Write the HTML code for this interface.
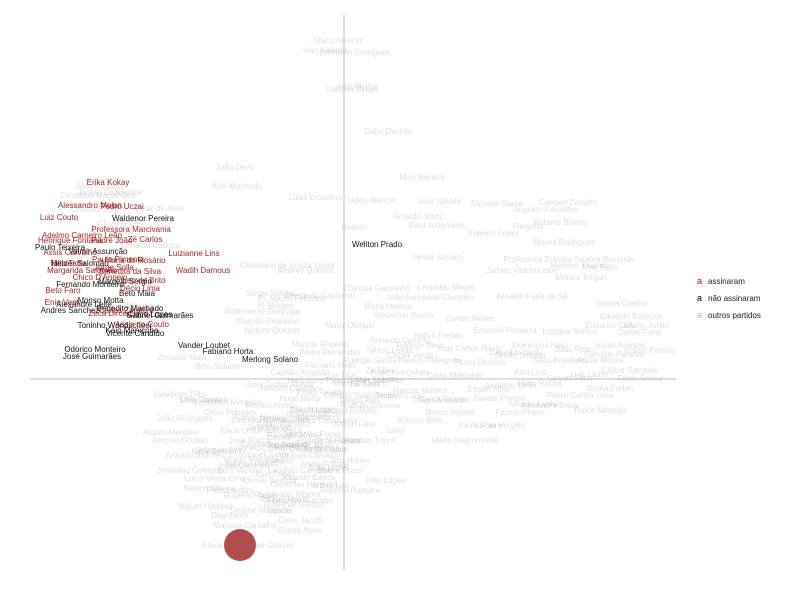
<!DOCTYPE html>
<html><head><meta charset="utf-8"><style>
html,body{margin:0;padding:0;background:#fff;}
svg{display:block;font-family:"Liberation Sans",sans-serif;}
</style></head><body>
<svg id="chart" width="800" height="600" viewBox="0 0 800 600">
<rect width="800" height="600" fill="#fff"/>
<g id="axes"></g><g id="gray"></g><g id="black"></g><g id="red"></g><g id="legend"></g>
</svg>
<script>
const redNames=["Erika Kokay","Alessandro Molon","Pedro Uczai","Luiz Couto","Professora Marcivania","Adelmo Carneiro Leão","Henrique Fontana","Padre João","Zé Carlos","Luizianne Lins","Assis Carvalho","Paulo Pimenta","Maria do Rosário","Nilto Tatto","Wadih Damous","Margarida Salomão","Beto Faro","Enio Verri","Chico D'Angelo","Zeca Dirceu","Décio Lima","Carlos Zarattini","Assis do Couto","Benedita da Silva","Jorge Solla","Leo de Brito"];
const redX=[-2.36,-2.54,-2.22,-2.85,-2.13,-2.62,-2.74,-2.32,-1.99,-1.50,-2.74,-2.26,-2.09,-2.76,-1.41,-2.62,-2.81,-2.82,-2.44,-2.34,-2.04,-2.18,-2.02,-2.14,-2.30,-2.00];
const redY=[1.97,1.74,1.73,1.62,1.50,1.44,1.39,1.39,1.40,1.26,1.27,1.20,1.19,1.16,1.09,1.09,0.89,0.77,1.02,0.66,0.91,0.69,0.55,1.08,1.12,0.99];
const blackNames=["Waldenor Pereira","Weliton Prado","Paulo Teixeira","Valmir Assunção","Helder Salomão","Fernando Monteiro","Marcelo Sérgio","Beto Maia","Andres Sanchez","Chico Lopes","Gabriel Guimarães","Toninho Wandscheer","Vicente Cândido","Kaio Maniçoba","Odorico Monteiro","José Guimarães","Vander Loubet","Fabiano Horta","Merlong Solano","Benedito Machado","Afonso Motta","Alexandre Leite"];
const blackX=[-2.01,0.33,-2.84,-2.46,-2.64,-2.54,-2.19,-2.07,-2.74,-1.94,-1.84,-2.29,-2.09,-2.12,-2.49,-2.52,-1.40,-1.16,-0.74,-2.14,-2.44,-2.60];
const blackY=[1.61,1.35,1.32,1.28,1.16,0.95,0.98,0.86,0.69,0.65,0.64,0.54,0.46,0.49,0.30,0.23,0.34,0.28,0.20,0.71,0.79,0.75];
const grayNames=["Chico Alencar","Ivan Valente","Edmilson Rodrigues","Glauber Braga","Jean Wyllys","Cabo Daciolo","João Derly","Aliel Machado","Miro Teixeira","Luiza Erundina","Tadeu Alencar","José Stédile","Eliziane Gama","Carmen Zanotto","Augusto Carvalho","Rubens Bueno","Arnaldo Jordy","Raul Jungmann","Flavinho","Bebeto","Roberto Freire","Moses Rodrigues","Heitor Schuch","Professora Dorinha Seabra Rezende","Christiane de Souza Yared","Walney Queiroz","Jarbas Vasconcelos","Max Filho","Mendes Thame","Moroni Torgan","Leopoldo Meyer","Clarissa Garotinho","Arnaldo Faria de Sá","João Fernando Coutinho","Sergio Vidigal","Delegado Capitanio","Pr. Marco Feliciano","Jô Moraes","Daniel Coelho","Maria Helena","Subtenente Gonzaga","Eduardo Barbosa","Jutahy Junior","Danilo Forte","Damião Feliciano","Luciana Santos","Aelton Freitas","Major Olimpio","Expedito Netto","Wolney Queiroz","Zenaide Maia","Beto Salame","Marcos Rogério","Pedro Fernandes","Weverton Rocha","Eduardo Cadoca","Chico Lopes","Janete Capiberibe","Davidson Magalhães","Alice Portugal","Orlando Silva","Bacelar","Evair de Melo","Valadares Filho","Sílvio Torres","Leonardo Monteiro","Ronaldo Carletto","Luiz Carlos Hauly","Domingos Neto","Atila Lins","Andre Moura","Bruna Furlan","Fábio Sousa","Nelson Pellegrino","Celso Maldaner","Jorginho Mello","Pedro Cunha Lima","Fausto Pinato","Paulo Freire","Marco Tebaldi","Antonio Brito","Tenente Lúcio","Zé Silva","Elizeu Dionizio","Alexandre Baldy","Jovair Arantes","Mauro Pereira","Silas Brasileiro","Ezequiel Fonseca","Carlos Melles","Rodrigo Maia","Mário Negromonte","Lucas Vergilio","Dulce Miranda","Hildo Rocha","Cleber Verde","Alex Manente","Marcos Montes","Rômulo Gouveia","Izalci","Diego Andrade","Eduardo Cury","Carlos Sampaio","Covatti Filho","Simão Sessim","Gorete Pereira","José Carlos Aleluia","Paulo Foletto","Hugo Motta","Aluisio Mendes","Antonio Bulhões","João Rodrigues","Celso Pansera","Evandro Roman","Paulo Maluf","Sóstenes Cavalcante","Lázaro Botelho","José Rocha","Jhonatan de Jesus","Francisco Floriano","Josi Nunes","Giacobo","Beto Mansur","Laudívio Carvalho","Lucio Vieira Lima","Osmar Bertoldi","Arthur Lira","Julio Lopes","Nelson Meurer","Rogério Rosso","Fernando Giacobo","Roberto Balestra","Miguel Haddad","Simone Morgado","Celso Jacob","Rocha Alves","Mariana Carvalho","Eduardo Cunha","Aníbal Chaves","Cacá Leão","Renata Abreu","Gilberto Nascimento","Caio Narcio","Ricardo Tripoli","Marcelo Aro","Vinicius Carvalho","Altineu Côrtes","Baleia Rossi","Paes Landim","Jerônimo Goergen","Danrlei","Dagoberto","Antonio Goulart","Herculano Passos","Marcelo Castro","Hiran Gonçalves","Luis Tibé","Capitão Augusto","Rodrigo Garcia","Flaviano Melo","Newton Cardoso","Sérgio Reis","Nilson Leitão","Mauro Lopes","Remídio Monai","Toninho Pinheiro","Lelo Coimbra","Marx Beltrão","Rubens Otoni","Carlos Gomes","Efraim Filho","Luiz Lauro","Darcísio Perondi","Wilson Filho","Jorge Tadeu","Raquel Muniz","Adail Carneiro","Mandetta","Luiz Nishimori","Valdir Colatto","Alfredo Kaefer","Bilac Pinto","Tia Eron","Pauderney Avelino","Fábio Ramalho","Heráclito Fortes","Manoel Junior","Goulart","André Fufuca","Júlio Cesar","Genecias Noronha","Waldir Maranhão","Aguinaldo Ribeiro","Dilceu Sperafico","Covatti","Ricardo Barros","Jony Marcos","Roberto Góes","Rôney Nemer","Edio Lopes","Lindomar Garçon","Marinha Raupp"];
const grayX=[-0.06,-0.19,0.11,0.08,0.12,0.44,-1.09,-1.07,0.78,-0.29,0.27,0.95,1.53,2.24,2.01,2.16,0.74,0.93,1.84,0.10,1.49,2.20,0.94,2.25,-0.57,-0.38,1.78,2.56,2.34,2.37,1.02,0.33,1.88,0.86,-0.74,-0.24,-0.52,-0.69,2.78,0.44,-0.82,2.87,3.02,2.96,-0.76,2.26,0.94,0.06,1.72,-0.72,-1.62,-1.26,-0.24,-0.14,0.60,-1.94,-2.24,-2.34,-2.46,-2.44,-2.49,-2.04,-1.84,-1.64,-1.44,-1.16,0.56,1.26,1.96,1.86,2.56,2.66,2.96,0.86,1.11,1.66,2.36,1.76,1.36,1.06,0.76,0.56,0.36,1.36,2.06,2.76,3.06,2.16,1.61,1.26,0.76,1.21,1.56,2.56,1.96,0.66,0.36,0.76,0.26,0.51,0.96,2.66,2.86,2.26,1.76,1.56,-0.64,-0.24,-0.44,-1.74,-1.49,-1.59,-1.14,-0.84,-0.64,-0.24,0.06,-0.94,-0.44,-0.14,0.06,-0.64,-1.04,-0.44,-1.29,-0.74,-0.14,0.41,-1.34,-0.94,-0.44,0.06,-1.39,-0.84,-0.44,-0.44,-0.99,-1.14,-0.76,-1.04,-0.74,0.16,-0.34,0.26,-1.24,-0.34,-0.84,-0.04,-1.14,-1.54,-0.64,-1.14,-1.64,-0.24,0.16,0.56,-0.04,-0.44,0.26,-0.14,-0.54,0.16,0.46,-0.30,-0.50,-0.90,-1.40,-1.30,-0.60,1.00,1.45,2.45,2.70,0.10,-0.20,-0.60,-1.00,-0.30,-0.10,0.30,1.90,2.30,0.20,-0.70,-0.60,-0.30,-0.80,-0.50,-0.20,-0.70,-0.40,-0.90,-0.55,-0.25,-0.65,-0.35,-0.75,-0.45,-0.85,-0.15,-0.50,-0.30];
const grayY=[3.39,3.29,3.27,2.90,2.93,2.48,2.12,1.93,2.02,1.82,1.79,1.78,1.76,1.77,1.70,1.57,1.63,1.54,1.53,1.52,1.46,1.37,1.22,1.20,1.14,1.09,1.09,1.12,1.14,1.02,0.92,0.91,0.83,0.82,0.86,0.84,0.81,0.74,0.76,0.73,0.68,0.63,0.54,0.47,0.58,0.48,0.44,0.54,0.27,0.49,0.22,0.13,0.35,0.27,0.64,1.34,1.56,1.87,1.84,1.93,1.70,0.74,1.71,-0.15,-0.21,-0.23,0.39,0.31,0.34,0.07,0.19,-0.09,0.01,0.19,0.04,-0.06,-0.16,-0.33,-0.46,-0.33,-0.41,-0.16,0.09,0.17,-0.26,0.34,0.29,0.19,0.49,0.61,0.34,-0.61,-0.46,-0.31,-0.04,0.24,-0.01,-0.11,-0.26,-0.51,-0.21,0.54,0.09,0.01,0.24,-0.19,-0.05,-0.13,-0.19,-0.53,-0.76,-0.39,-0.33,-0.41,-0.51,-0.41,-0.31,-0.61,-0.66,-0.61,-0.81,-0.81,-0.91,-0.91,-0.99,-1.01,-1.06,-1.01,-1.09,-1.16,-1.21,-1.11,-1.27,-1.31,-1.41,-1.51,-1.46,-1.66,-1.66,-0.51,-0.26,-0.16,-0.31,-0.61,-0.71,-0.76,-0.69,-0.91,-1.11,-0.91,-1.31,-1.36,-0.61,-0.01,-0.04,0.07,0.04,0.07,0.19,0.14,-0.09,-0.21,0.29,-0.30,-0.56,-0.85,-0.20,-0.72,-0.40,-0.20,-0.10,0.05,0.25,-0.45,-0.70,-1.20,-0.86,-0.38,-0.62,0.00,-0.25,0.30,-0.05,-0.65,-0.45,-0.55,-0.75,-0.65,-0.85,-0.95,-1.05,-0.80,-1.15,-0.70,-0.58,-0.98,-0.48,-0.68,-0.38,-0.88,-1.25,-0.35];
const legendLabels=["assinaram","não assinaram","outros partidos"];
const bubbleX=[-1.04], bubbleY=[-1.66], bubbleSize=[16];

const NS="http://www.w3.org/2000/svg";
function sx(v){return 344+v*100;}
function sy(v){return 379-v*100;}
function mk(tag,attrs,parent){const e=document.createElementNS(NS,tag);for(const k in attrs)e.setAttribute(k,attrs[k]);parent.appendChild(e);return e;}
const axes=document.getElementById('axes');
const vl=mk('line',{x1:sx(0),x2:sx(0),y1:15,y2:570,stroke:'#bdbdbd','stroke-width':1},axes);


const hl=mk('line',{x1:30,x2:676,y1:sy(0),y2:sy(0),stroke:'#bdbdbd','stroke-width':1},axes);


for(let i=0;i<bubbleX.length;i++){
  const c=mk('circle',{cx:sx(bubbleX[i]),cy:sy(bubbleY[i]),r:bubbleSize[i],fill:'#a83434','fill-opacity':0.88},axes);
  
  
}
function drawGroup(id,names,xs,ys,fill,op,dn){
  const g=document.getElementById(id);
  for(let i=0;i<names.length;i++){
    const t=mk('text',{x:sx(xs[i]),y:sy(ys[i])+3,'text-anchor':'middle','font-size':'8px',fill:fill,'fill-opacity':op},g);
    t.textContent=names[i];
    
    
  }
}
drawGroup('gray',grayNames,grayX,grayY,'#808080',0.26,'outros-partidos-label');
drawGroup('black',blackNames,blackX,blackY,'#000',0.92,'nao-assinaram-label');
drawGroup('red',redNames,redX,redY,'#9c1414',0.95,'assinaram-label');
const lg=document.getElementById('legend');
const lcol=['#9c1414','#000','#b5b5b5'];
for(let i=0;i<legendLabels.length;i++){
  const y=284+i*17;
  const a=mk('text',{x:697,y:y,'font-size':'9px',fill:lcol[i]},lg);
  a.textContent='a';
  
  
  const t=mk('text',{x:708,y:y,'font-size':'8px',fill:'#222'},lg);
  t.textContent=legendLabels[i];
  
  
}
</script>
</body></html>
